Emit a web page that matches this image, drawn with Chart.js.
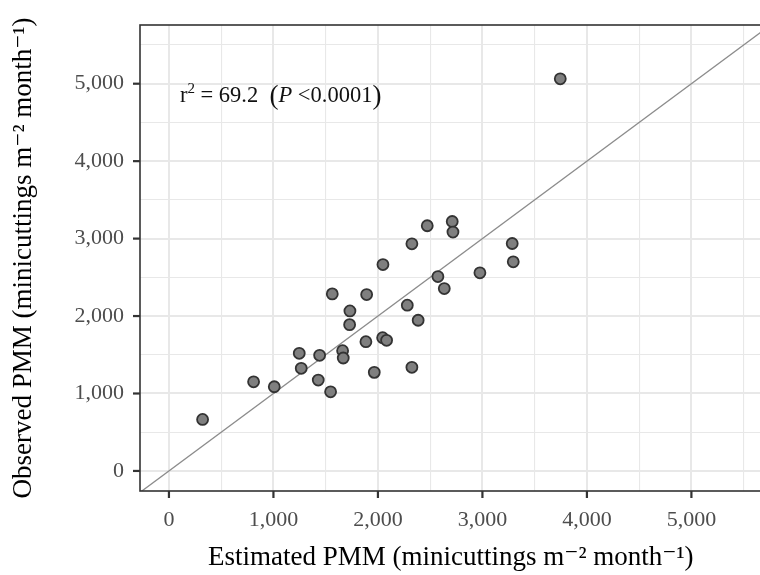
<!DOCTYPE html>
<html>
<head>
<meta charset="utf-8">
<script src="https://cdn.jsdelivr.net/npm/chart.js@4.4.0/dist/chart.umd.min.js"></script>
<style>
  html, body { margin: 0; padding: 0; background: #fff; overflow: hidden; }
  #wrap { width: 790px; height: 575px; }
</style>
</head>
<body>
<div id="wrap"><canvas id="grafico" width="790" height="575"></canvas></div>
<script>
// estimated (x) and observed (y) PMM, one entry per clone
var estimated = [322, 810, 1008, 1247, 1266, 1429, 1442, 1547, 1563, 1662, 1668, 1729, 1732,
                 1885, 1892, 1965, 2045, 2048, 2083, 2281, 2325, 2325, 2385, 2472, 2574, 2635,
                 2711, 2718, 2976, 3285, 3295, 3745];
var observed  = [665, 1151, 1087, 1519, 1325, 1173, 1493, 1022, 2286, 1553, 1458, 1889, 2066,
                 1669, 2277, 1273, 1721, 2665, 1687, 2140, 2933, 1338, 1946, 3166, 2510, 2355,
                 3221, 3084, 2558, 2937, 2700, 5063];

// 1:1 line
var lineX = [-400, 6000];
var lineY = [-400, 6000];

// ticks (grid every 500, labels every 1000)
var tickValues = [0, 500, 1000, 1500, 2000, 2500, 3000, 3500, 4000, 4500, 5000, 5500];

var xTitle = 'Estimated PMM (minicuttings m\u207B\u00B2 month\u207B\u00B9)\u2002';
var yTitle = 'Observed PMM (minicuttings m\u207B\u00B2 month\u207B\u00B9)';

var serif = '"Liberation Serif", "DejaVu Serif", serif';

function isMajor(v) { return v % 1000 === 0; }

function eixo(min, max, title, titlePad) {
    return {
        type: 'linear',
        min: min,
        max: max,
        afterBuildTicks: function (scale) {
            scale.ticks = tickValues.map(function (v) { return { value: v }; });
        },
        ticks: {
            autoSkip: false,
            padding: 9,
            color: '#4d4d4d',
            font: { family: serif, size: 22 },
            callback: function (v) { return isMajor(v) ? v.toLocaleString('en-US') : ''; }
        },
        grid: {
            color: '#e8e8e8',
            lineWidth: function (c) { return c.tick && isMajor(c.tick.value) ? 2 : 1.1; },
            tickLength: 7,
            tickColor: 'rgba(0,0,0,0)'
        },
        border: { display: false },
        title: {
            display: true,
            text: title,
            color: '#000',
            font: { family: serif, size: 27 },
            padding: titlePad
        }
    };
}

// borda do painel, marcas dos eixos e texto do r2
var painel = {
    id: 'painel',
    afterDraw: function (chart) {
        var a = chart.chartArea, ctx = chart.ctx;
        var sx = chart.scales.x, sy = chart.scales.y;
        ctx.save();
        ctx.strokeStyle = '#333333';
        ctx.lineWidth = 1.6;
        ctx.strokeRect(a.left, a.top, a.right - a.left, a.bottom - a.top);

        ctx.fillStyle = '#333333';
        tickValues.filter(function (v) { return isMajor(v); }).forEach(function (v) {
            var x = sx.getPixelForValue(v), y = sy.getPixelForValue(v);
            ctx.fillRect(x - 1.1, a.bottom, 2.2, 7);
            ctx.fillRect(a.left - 7, y - 1.1, 7, 2.2);
        });

        var px = sx.getPixelForValue(105);
        var py = sy.getPixelForValue(4860);
        ctx.fillStyle = '#111';
        ctx.textBaseline = 'alphabetic';
        var base = py + 7;
        var parts = [
            ['r', '22.5px ' + serif, 0],
            ['2', '15px ' + serif, -9],
            [' = 69.2  ', '22.5px ' + serif, 0],
            ['(', '27px ' + serif, 2],
            ['P', 'italic 22.5px ' + serif, 0],
            [' <0.0001', '22.5px ' + serif, 0],
            [')', '27px ' + serif, 2]
        ];
        parts.forEach(function (p) {
            ctx.font = p[1];
            ctx.fillText(p[0], px, base + p[2]);
            px += ctx.measureText(p[0]).width;
        });
        ctx.restore();
    }
};

var rel = new Chart(document.getElementById('grafico'), {
    data: {
        datasets: [{
                type: 'scatter',
                data: estimated.map(function (x, i) { return { x: x, y: observed[i] }; }),
                pointRadius: 5.5,
                pointBackgroundColor: '#7f7f7f',
                pointBorderColor: '#333333',
                pointBorderWidth: 1.8
            }, {
                type: 'line',
                data: lineX.map(function (x, i) { return { x: x, y: lineY[i] }; }),
                borderColor: '#8c8c8c',
                borderWidth: 1.3,
                pointRadius: 0,
                fill: false
            }]
    },
    options: {
        responsive: false,
        animation: false,
        layout: { padding: { left: 0, top: 25, right: 15, bottom: 0 } },
        plugins: { legend: { display: false }, tooltip: { enabled: false } },
        scales: {
            x: Object.assign(eixo(-277, 5800, xTitle, { top: 0, bottom: 1 }), {
                afterFit: function (s) { s.height = 84; }
            }),
            y: Object.assign(eixo(-259, 5758, yTitle, { top: 8, bottom: 0 }), {
                afterFit: function (s) { s.width = 140; }
            })
        }
    },
    plugins: [painel]
});
</script>
</body>
</html>
